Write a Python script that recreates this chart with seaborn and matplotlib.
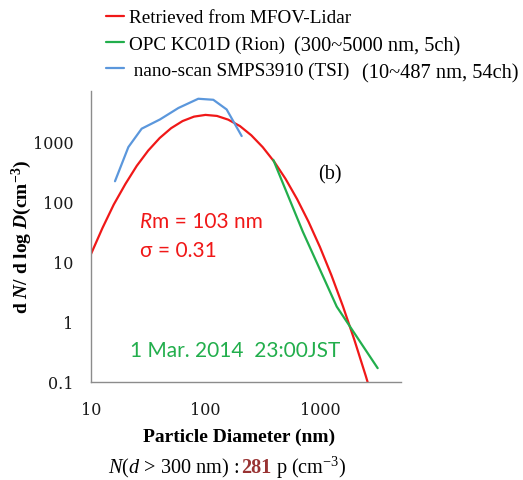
import numpy as np
import matplotlib
matplotlib.use("Agg")
import matplotlib.pyplot as plt
import seaborn as sns
import pandas as pd

# retrieved size distribution (MFOV lidar)
lidar_d = [10, 12.6, 15.8, 20, 25.1, 31.6, 39.8, 50.1, 63.1, 79.4, 100, 126, 158,
           200, 251, 316, 398, 501, 631, 794, 1000, 1259, 1585, 1995, 2512, 2630]
lidar_n = [13.5, 36.7, 90, 199, 397, 713, 1154, 1683, 2212, 2621, 2800, 2691, 2333,
           1823, 1284, 814, 466, 240, 111, 46.6, 17.6, 5.98, 1.83, 0.505, 0.126, 0.094]

# OPC KC01D (Rion)
opc_d = [391, 707, 1400, 3190]
opc_n = [500, 32, 1.8, 0.17]

# nano-scan SMPS3910 (TSI)
smps_d = [16.2, 21.2, 27.7, 40, 58, 86.5, 117, 153, 207]
smps_n = [220, 815, 1650, 2350, 3650, 5200, 5000, 3450, 1245]

labels = ["Retrieved from MFOV-Lidar", "OPC KC01D (Rion)", "nano-scan SMPS3910 (TSI)"]
colors = ["#f01818", "#22ae4c", "#5b97dc"]

df = pd.concat([
    pd.DataFrame({"d": lidar_d, "n": lidar_n, "src": labels[0]}),
    pd.DataFrame({"d": opc_d, "n": opc_n, "src": labels[1]}),
    pd.DataFrame({"d": smps_d, "n": smps_n, "src": labels[2]}),
])

sns.set_style("white")
plt.rcParams['font.family'] = ['Liberation Serif', 'DejaVu Serif']
plt.rcParams['mathtext.fontset'] = 'custom'
plt.rcParams['mathtext.it'] = 'Liberation Serif:italic'
plt.rcParams['mathtext.bf'] = 'Liberation Serif:bold'
plt.rcParams['mathtext.bfit'] = 'Liberation Serif:italic:bold'
plt.rcParams['mathtext.rm'] = 'Liberation Serif'
plt.rcParams['text.color'] = 'black'

W, H = 523, 481
fig = plt.figure(figsize=(W / 100, H / 100), dpi=100)
ax = fig.add_axes([91 / W, 1 - 383 / H, (401 - 91) / W, (383 - 92) / H])

sns.lineplot(data=df, x="d", y="n", hue="src", palette=dict(zip(labels, colors)),
             sort=False, estimator=None, linewidth=1.6, ax=ax, legend=True)

ax.set_xscale("log")
ax.set_yscale("log")
ax.set_xlim(10, 5100)
ax.set_ylim(0.1, 7000)
ax.set_xticks([10, 100, 1000])
ax.set_xticklabels(["10", "100", "1000"])
ax.set_yticks([0.1, 1, 10, 100, 1000])
ax.set_yticklabels(["0.1", "1", "10", "100", "1000"])
ax.minorticks_off()
for s in ["top", "right"]:
    ax.spines[s].set_visible(False)
for s in ["left", "bottom"]:
    ax.spines[s].set_color("#8c8c8c")
    ax.spines[s].set_linewidth(1.0)
ax.tick_params(axis="both", which="major", direction="out", length=6, width=1,
               color="#8c8c8c", labelsize=11.5, labelcolor="#1a1a1a", pad=6.5)
for lab in ax.get_xticklabels() + ax.get_yticklabels():
    lab.set_family("DejaVu Serif")
ax.tick_params(axis="x", pad=8)

ax.set_xlabel("")
ax.set_ylabel("")

# legend above the plot
h, l = ax.get_legend_handles_labels()
ax.get_legend().remove()
l = [labels[0], labels[1], " " + labels[2]]
fig.legend(h, l, loc="upper left", bbox_to_anchor=(106 / W, 1 - 10 / H),
           frameon=False, fontsize=13.8, handlelength=0.95, handletextpad=0.25,
           labelspacing=0.45, borderpad=0, borderaxespad=0)
fig.text(294 / W, 1 - 47 / H, "(300~5000 nm, 5ch)", fontsize=14.7, va="center")
fig.text(362 / W, 1 - 74 / H, "(10~487 nm, 54ch)", fontsize=14.7, va="center")

# axis titles
fig.text(22 / W, 1 - 237 / H,
         r"d $\mathbfit{N}$/ d log $\mathbfit{D}$(cm$^{\mathbf{-3}}$)",
         rotation=90, ha="center", va="center", fontsize=14, fontweight="bold")
fig.text(239 / W, 1 - 437 / H, "Particle Diameter (nm)", ha="center", va="center",
         fontsize=14, fontweight="bold")

# annotations inside the axes
sans = ["Lato", "DejaVu Sans"]
red_c = "#f01818"
tR = ax.text(0.158, 0.553, "R", transform=ax.transAxes, color=red_c,
             fontsize=15, family=sans, style="italic", va="center")
ax.text(0.158, 0.455, "σ = 0.31", transform=ax.transAxes, color=red_c,
        fontsize=15, family=sans, va="center")
ax.text(0.126, 0.11, "1 Mar. 2014  23:00JST", transform=ax.transAxes, color="#22ae4c",
        fontsize=15, family=sans, va="center")
ax.text(0.732, 0.715, "(b)", transform=ax.transAxes, fontsize=14.5, va="center")

fig.canvas.draw()
bbR = tR.get_window_extent()
fig.text(bbR.x1 / fig.bbox.width, (ax.transAxes.transform((0, 0.553))[1]) / fig.bbox.height,
         "m = 103 nm", color=red_c, fontsize=15, family=sans, va="center")

# bottom caption
x0 = 108 / W
yc = 1 - 468 / H
t1 = fig.text(x0, yc, r"$\mathit{N}$($\mathit{d}$ > 300 nm) : ", fontsize=14.6, va="center")
fig.canvas.draw()
bb = t1.get_window_extent()
t2 = fig.text(bb.x1 / fig.bbox.width, yc, "281", fontsize=14.6, va="center",
              fontweight="bold", color="#993333")
fig.canvas.draw()
bb2 = t2.get_window_extent()
fig.text(bb2.x1 / fig.bbox.width, yc, r" p (cm$^{-3}$)", fontsize=14.6, va="center")

fig.savefig("out.png", dpi=100)
